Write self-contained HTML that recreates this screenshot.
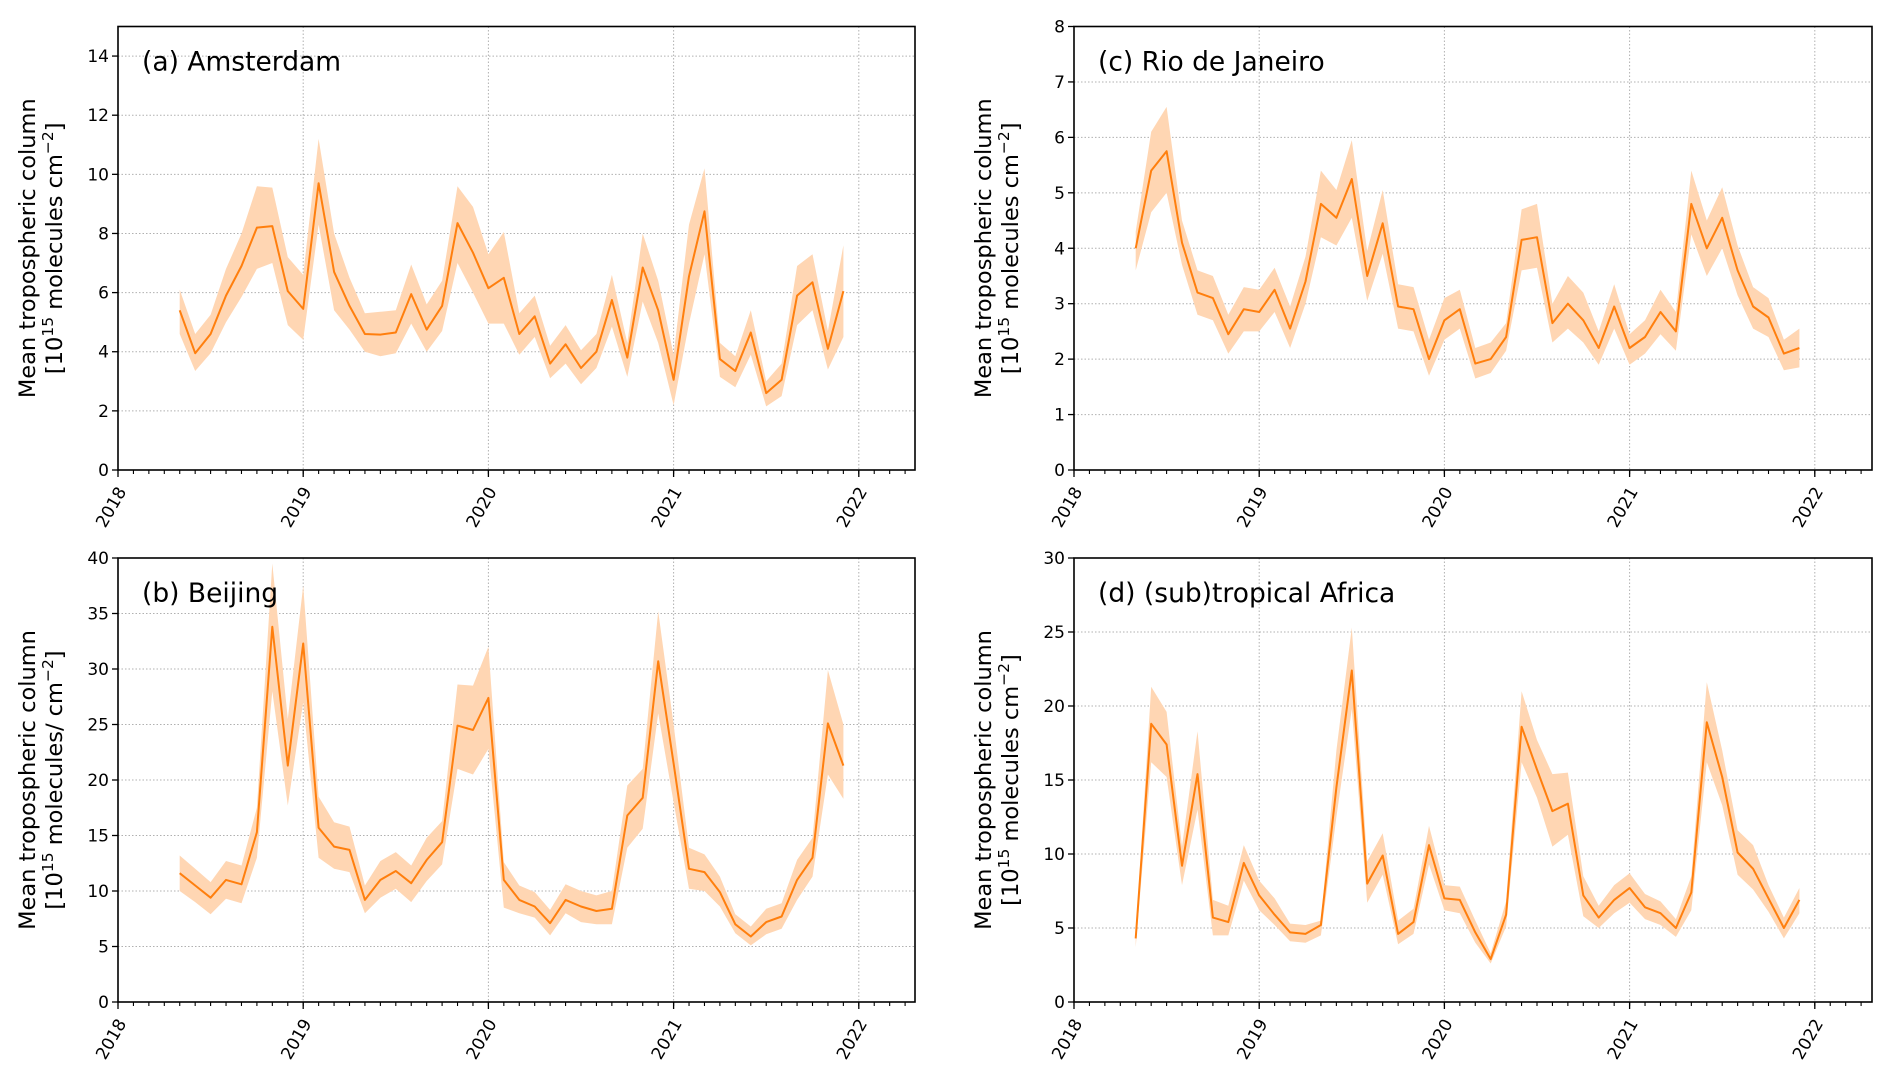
<!DOCTYPE html>
<html><head><meta charset="utf-8"><style>
html,body{margin:0;padding:0;background:#fff;}
svg{display:block;font-family:"DejaVu Sans","Liberation Sans",sans-serif;}
</style></head><body>
<svg id="fig" width="1892" height="1081" viewBox="0 0 1892 1081" xmlns="http://www.w3.org/2000/svg"></svg>
<script>
const months = 44; // May 2018 .. Dec 2021
const yearTicks = [2018, 2019, 2020, 2021, 2022];

const amsMean = [5.4,3.95,4.6,5.9,6.9,8.2,8.25,6.05, 5.45,9.7,6.7,5.55,4.6,4.58,4.65,5.95,4.75,5.55,8.35,7.35, 6.15,6.5,4.6,5.2,3.6,4.25,3.45,4.0,5.75,3.8,6.85,5.4, 3.05,6.55,8.75,3.75,3.35,4.65,2.6,3.05,5.9,6.35,4.1,6.05];
const amsUpper = [6.1,4.6,5.25,6.8,8.0,9.6,9.55,7.2,6.6,11.2,8.0,6.5,5.3,5.35,5.4,6.95,5.6,6.4,9.6,8.9,7.3,8.05,5.3,5.9,4.2,4.9,4.05,4.6,6.6,4.3,8.0,6.4,3.9,8.3,10.2,4.3,3.85,5.4,3.0,3.6,6.9,7.3,4.7,7.6];
const amsLower = [4.6,3.35,3.95,5.0,5.85,6.8,7.0,4.9,4.4,8.3,5.4,4.75,4.0,3.85,3.95,4.95,4.0,4.7,7.0,6.0,4.95,4.95,3.9,4.5,3.1,3.6,2.9,3.45,4.85,3.15,5.7,4.3,2.2,4.95,7.3,3.15,2.8,3.9,2.15,2.5,4.9,5.4,3.4,4.5];

const rioMean = [4.0,5.4,5.75,4.1,3.2,3.1,2.45,2.9, 2.85,3.25,2.55,3.4,4.8,4.55,5.25,3.5,4.45,2.95,2.9,2.0, 2.7,2.9,1.92,2.0,2.4,4.15,4.2,2.65,3.0,2.7,2.2,2.95, 2.2,2.4,2.85,2.5,4.8,4.0,4.55,3.6,2.95,2.75,2.1,2.2];
const rioUpper = [4.3,6.1,6.55,4.5,3.6,3.5,2.8,3.3,3.25,3.65,2.95,3.85,5.4,5.05,5.95,3.95,5.05,3.35,3.3,2.35,3.1,3.25,2.2,2.3,2.65,4.7,4.8,3.0,3.5,3.2,2.5,3.35,2.45,2.7,3.25,2.85,5.4,4.5,5.1,4.05,3.3,3.1,2.35,2.55];
const rioLower = [3.6,4.65,5.0,3.7,2.8,2.7,2.1,2.5,2.5,2.85,2.2,3.0,4.2,4.05,4.55,3.05,3.9,2.55,2.5,1.7,2.35,2.55,1.65,1.75,2.15,3.6,3.65,2.3,2.55,2.3,1.9,2.55,1.9,2.1,2.45,2.15,4.25,3.5,4.0,3.15,2.55,2.4,1.8,1.85];

const bjMean = [11.6,10.5,9.4,11.0,10.6,15.3,33.8,21.3, 32.3,15.7,14.0,13.7,9.2,11.0,11.8,10.7,12.8,14.4,24.9,24.5, 27.4,11.0,9.2,8.6,7.1,9.2,8.6,8.2,8.4,16.8,18.4,30.7, 21.5,12.0,11.7,9.9,7.0,5.9,7.2,7.7,11.0,13.0,25.1,21.3];
const bjUpper = [13.2,12.0,10.8,12.7,12.3,17.5,39.5,25.5,37.5,18.5,16.2,15.8,10.5,12.7,13.5,12.3,14.8,16.3,28.6,28.5,32.0,12.6,10.5,9.9,8.3,10.6,10.0,9.6,10.0,19.5,21.0,35.2,25.0,13.9,13.3,11.3,7.9,6.8,8.4,8.9,12.8,14.8,29.9,25.0];
const bjLower = [10.0,9.0,7.9,9.3,8.9,13.0,28.0,17.7,27.0,13.0,12.0,11.7,8.0,9.4,10.2,9.0,10.9,12.4,21.0,20.5,22.8,8.5,8.0,7.6,6.0,8.0,7.2,7.0,7.0,13.9,15.6,26.0,18.0,10.2,10.0,8.6,6.2,5.1,6.1,6.6,9.2,11.3,20.5,18.3];

const afMean = [4.3,18.8,17.4,9.2,15.4,5.7,5.4,9.4, 7.2,5.9,4.7,4.6,5.2,14.5,22.4,8.0,9.9,4.6,5.4,10.6, 7.0,6.9,4.7,2.9,5.9,18.6,15.7,12.9,13.4,7.2,5.7,6.9, 7.7,6.4,6.0,5.0,7.4,18.9,15.2,10.1,9.0,7.0,5.0,6.9];
const afUpper = [4.5,21.3,19.6,10.5,18.3,6.9,6.5,10.6,8.2,7.0,5.3,5.2,5.5,17.0,25.3,9.5,11.4,5.5,6.3,11.9,7.9,7.8,5.5,3.3,6.8,21.0,17.7,15.4,15.5,8.5,6.5,7.9,8.7,7.3,6.8,5.6,8.5,21.6,17.0,11.6,10.6,7.9,5.7,7.7];
const afLower = [3.7,16.2,15.2,7.9,13.0,4.5,4.5,8.2,6.2,5.2,4.1,4.0,4.5,12.5,19.8,6.7,8.6,3.9,4.6,9.3,6.2,6.0,4.0,2.6,5.1,16.2,13.8,10.5,11.3,5.8,5.0,6.0,6.7,5.6,5.2,4.4,6.2,16.2,13.3,8.6,7.6,6.1,4.3,6.0];

const amsTicks = [0,2,4,6,8,10,12,14];
const rioTicks = [0,1,2,3,4,5,6,7,8];
const bjTicks = [0,5,10,15,20,25,30,35,40];
const afTicks = [0,5,10,15,20,25,30];

const NS = 'http://www.w3.org/2000/svg';
const svg = document.getElementById('fig');
function mk(tag, attrs, parent){const e=document.createElementNS(NS,tag);for(const k in attrs)e.setAttribute(k,attrs[k]);(parent||svg).appendChild(e);return e;}

function panel(cfg){
  const g = mk('g',{});
  
  
  const L=cfg.L,R=cfg.R,T=cfg.T,B=cfg.B;
  const pxYear=185.2;
  const xs = d => L + (d-2018)*pxYear;
  const ys = v => B - v/cfg.ymax*(B-T);
  const monthX = k => xs(2018 + (4+k)/12);
  for(const t of cfg.ticks){
    if(t===0||t===cfg.ymax) continue;
    const gl=mk('line',{x1:L,x2:R,y1:ys(t),y2:ys(t),stroke:'#b0b0b0','stroke-width':1,'stroke-dasharray':'1.5,2'},g);
    
    
  }
  for(const yr of yearTicks){
    if(yr===2018) continue;
    const gl=mk('line',{x1:xs(yr),x2:xs(yr),y1:T,y2:B,stroke:'#b0b0b0','stroke-width':1,'stroke-dasharray':'1.5,2'},g);
    
    
  }
  let d='';
  for(let k=0;k<cfg.upper.length;k++) d+=(k?'L':'M')+monthX(k).toFixed(1)+','+ys(cfg.upper[k]).toFixed(1);
  for(let k=cfg.lower.length-1;k>=0;k--) d+='L'+monthX(k).toFixed(1)+','+ys(cfg.lower[k]).toFixed(1);
  const band=mk('path',{d:d+'Z',fill:'#ffd6b3',stroke:'none'},g);
  
  
  let dl='';
  for(let k=0;k<cfg.mean.length;k++) dl+=(k?'L':'M')+monthX(k).toFixed(1)+','+ys(cfg.mean[k]).toFixed(1);
  const line=mk('path',{d:dl,fill:'none',stroke:'#ff7f0e','stroke-width':2,'stroke-linejoin':'round'},g);
  
  
  const fr=mk('rect',{x:L,y:T,width:R-L,height:B-T,fill:'none',stroke:'#000','stroke-width':1.6},g);
  
  
  for(const t of cfg.ticks){
    mk('line',{x1:L-6,x2:L,y1:ys(t),y2:ys(t),stroke:'#000','stroke-width':1.3},g);
    const tx=mk('text',{x:L-9,y:ys(t)+6,'text-anchor':'end','font-size':17,fill:'#000'},g);
    tx.textContent=t;
    
    
  }
  for(let m=0;m<=51;m++){
    const x=xs(2018+m/12);
    if(x>R) break;
    mk('line',{x1:x,x2:x,y1:B,y2:B+4,stroke:'#000','stroke-width':1.1},g);
  }
  for(const yr of yearTicks){
    const x=xs(yr);
    mk('line',{x1:x,x2:x,y1:B,y2:B+7,stroke:'#000','stroke-width':1.3},g);
    const tx=mk('text',{x:0,y:0,'text-anchor':'middle','font-size':17,fill:'#000',transform:`translate(${x-2},${B+40}) rotate(-60)`},g);
    tx.textContent=yr;
    
    
  }
  const ti=mk('text',{x:L+24,y:T+44,'font-size':26.5,fill:'#000'},g);
  ti.textContent=cfg.title;
  
  
  const cy=(T+B)/2;
  const yl=mk('text',{x:0,y:0,'text-anchor':'middle','font-size':22.5,fill:'#000',transform:`translate(${L-83},${cy}) rotate(-90)`},g);
  yl.textContent='Mean tropospheric column';
  
  
  const yl2=mk('text',{x:0,y:0,'text-anchor':'middle','font-size':22.5,fill:'#000',transform:`translate(${L-56},${cy}) rotate(-90)`},g);
  yl2.innerHTML='[10<tspan dy="-9" font-size="15.5">15</tspan><tspan dy="9"> molecules'+(cfg.slash?'/':'')+' cm</tspan><tspan dy="-9" font-size="15.5">−2</tspan><tspan dy="9">]</tspan>';
  
  
}

panel({name:'panel-amsterdam',title:'(a) Amsterdam',L:118,R:915,T:26.5,B:470,ymax:15,ticks:amsTicks,mean:amsMean,upper:amsUpper,lower:amsLower});
panel({name:'panel-rio',title:'(c) Rio de Janeiro',L:1074,R:1872,T:26.5,B:470,ymax:8,ticks:rioTicks,mean:rioMean,upper:rioUpper,lower:rioLower});
panel({name:'panel-beijing',title:'(b) Beijing',L:118,R:915,T:558,B:1002,ymax:40,ticks:bjTicks,mean:bjMean,upper:bjUpper,lower:bjLower,slash:true});
panel({name:'panel-africa',title:'(d) (sub)tropical Africa',L:1074,R:1872,T:558,B:1002,ymax:30,ticks:afTicks,mean:afMean,upper:afUpper,lower:afLower});
</script>
</body></html>
